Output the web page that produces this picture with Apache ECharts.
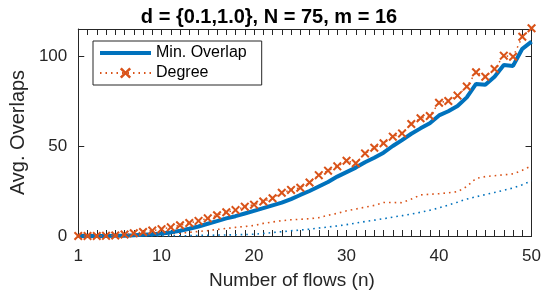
<!DOCTYPE html>
<html>
<head>
<meta charset="utf-8">
<script src="https://cdn.jsdelivr.net/npm/echarts@6/dist/echarts.min.js"></script>
<style>
  html, body { margin: 0; padding: 0; background: #fff; }
  #main { width: 544px; height: 299px; }
</style>
</head>
<body>
<div id="main"></div>
<script>
// number of flows
var flows = [];
for (var i = 1; i <= 50; i++) flows.push(i);

// Min. Overlap (thick blue)
var minOverlap = [0, 0, 0, 0, 0.1, 0.2, 0.4, 0.7, 1.0, 1.4,
  2.0, 2.9, 4.0, 5.3, 6.8, 8.3, 9.8, 11.0, 12.5, 14.0,
  15.5, 17.0, 18.5, 20.5, 22.8, 25.0, 27.5, 30.0, 33.0, 35.5,
  38.0, 41.0, 43.5, 46.3, 50.0, 53.3, 56.8, 59.8, 62.6, 67.0,
  69.3, 72.2, 77.0, 84.5, 84.0, 88.5, 95.0, 94.5, 104.0, 108.0];

// Degree (red dotted with x markers)
var degree = [0, 0, 0, 0.1, 0.3, 0.8, 1.5, 2.2, 3.0, 3.8,
  4.8, 6.0, 7.2, 8.4, 9.8, 11.5, 13.2, 14.4, 16.3, 17.4,
  19.2, 21.0, 24.0, 25.6, 26.8, 29.7, 33.8, 36.3, 38.7, 41.8,
  40.4, 45.9, 49.0, 51.5, 55.2, 57.0, 62.2, 65.4, 66.7, 74.0,
  75.0, 78.0, 83.0, 91.0, 88.5, 92.8, 100.2, 99.6, 110.7, 115.4];

// lower unlabeled curves
var degreeLow = [0, 0, 0, 0, 0, 0.1, 0.2, 0.4, 0.6, 0.9,
  1.2, 1.6, 2.0, 2.5, 3.0, 3.6, 4.2, 4.8, 5.3, 5.8,
  7.0, 7.8, 8.5, 9.0, 9.3, 9.6, 10.2, 11.5, 12.6, 14.0,
  15.0, 16.0, 17.0, 18.6, 18.6, 18.5, 20.5, 22.8, 23.2, 23.5,
  24.0, 24.6, 27.5, 32.0, 33.0, 33.5, 34.0, 34.5, 36.5, 39.0];

var minOverlapLow = [0, 0, 0, 0, 0, 0, 0, 0, 0, 0,
  0.1, 0.1, 0.2, 0.3, 0.4, 0.5, 0.6, 0.7, 0.8, 1.0,
  1.4, 1.9, 2.4, 2.9, 3.3, 3.8, 4.4, 5.0, 5.6, 6.3,
  7.2, 8.0, 8.8, 9.6, 10.5, 11.3, 12.2, 13.2, 14.3, 15.6,
  17.2, 18.8, 20.5, 21.8, 23.0, 24.2, 25.4, 26.7, 28.5, 30.7];

var xLabels = [1, 10, 20, 30, 40, 50];
var yLabels = [0, 50, 100];

function pairs(ys) {
  return flows.map(function (n, k) { return [n, ys[k]]; });
}

var blue = '#0072BD';
var red = '#D95319';
var ink = '#262626';
var font = '"Liberation Sans", Arial, sans-serif';
// x marker as filled polygon
var crossPath = 'path://M0,1.6L1.6,0L5,3.4L8.4,0L10,1.6L6.6,5L10,8.4L8.4,10L5,6.6L1.6,10L0,8.4L3.4,5Z';

function xAxisOpt(pos, extra) {
  return Object.assign({
    type: 'value', min: 1, max: 50, interval: 1, position: pos,
    axisLine: { onZero: false, lineStyle: { color: ink, width: 1 } },
    axisTick: { show: true, inside: true, length: 6, lineStyle: { color: ink, width: 1 } },
    splitLine: { show: false }
  }, extra);
}
function yAxisOpt(pos, extra) {
  return Object.assign({
    type: 'value', min: 0, max: 115, interval: 50, position: pos,
    axisLine: { show: true, onZero: false, lineStyle: { color: ink, width: 1 } },
    axisTick: { show: true, inside: true, length: 6, lineStyle: { color: ink, width: 1 } },
    splitLine: { show: false }
  }, extra);
}

var chart = echarts.init(document.getElementById('main'));
chart.setOption({
  animation: false,
  backgroundColor: '#fff',
  textStyle: { fontFamily: font },
  title: {
    text: 'd = {0.1,1.0}, N = 75, m = 16',
    left: 264, top: 2, textAlign: 'center',
    textStyle: { fontSize: 20, fontWeight: 'bold', color: '#000', fontFamily: font }
  },
  grid: { left: 78, right: 9, top: 29, bottom: 63 },
  legend: {
    left: 93, top: 41,
    orient: 'vertical',
    data: [
      { name: 'Min. Overlap', itemStyle: { opacity: 0 }, lineStyle: { width: 4 } },
      { name: 'Degree' }
    ],
    itemWidth: 51, itemHeight: 14, itemGap: 4,
    padding: [4, 15, 4, 5],
    borderColor: ink, borderWidth: 1,
    backgroundColor: '#fff',
    textStyle: { fontSize: 16, color: '#000', fontFamily: font }
  },
  xAxis: [
    xAxisOpt('bottom', {
      name: 'Number of flows (n)', nameLocation: 'middle', nameGap: 35,
      nameTextStyle: { fontSize: 19, color: ink, padding: [0, 26, 0, 0] },
      axisLabel: {
        margin: 12, fontSize: 17, color: ink,
        formatter: function (v) { return xLabels.indexOf(v) >= 0 ? String(v) : ''; }
      }
    }),
    xAxisOpt('top', { axisLabel: { show: false } })
  ],
  yAxis: [
    yAxisOpt('left', {
      name: 'Avg. Overlaps', nameLocation: 'middle', nameGap: 46,
      nameTextStyle: { fontSize: 20, color: ink },
      axisLabel: {
        margin: 11, fontSize: 17, color: ink, showMaxLabel: false,
        formatter: function (v) { return yLabels.indexOf(v) >= 0 ? String(v) : ''; }
      }
    }),
    yAxisOpt('right', { axisLabel: { show: false } })
  ],
  series: [
    {
      name: 'Degree low', type: 'line', data: pairs(degreeLow),
      symbol: 'none', color: red,
      lineStyle: { color: red, width: 1.6, type: [1.6, 4] }
    },
    {
      name: 'Min. Overlap low', type: 'line', data: pairs(minOverlapLow),
      symbol: 'none', color: blue,
      lineStyle: { color: blue, width: 1.6, type: [1.6, 4] }
    },
    {
      name: 'Min. Overlap', type: 'line', data: pairs(minOverlap),
      symbol: 'none', color: blue,
      lineStyle: { color: blue, width: 4 }
    },
    {
      name: 'Degree', type: 'line', data: pairs(degree),
      symbol: crossPath, symbolSize: 9, showAllSymbol: true,
      clip: false,
      color: red,
      itemStyle: { color: red },
      lineStyle: { color: red, width: 1.5, type: [1.5, 4] },
      z: 5
    }
  ]
});
</script>
</body>
</html>
